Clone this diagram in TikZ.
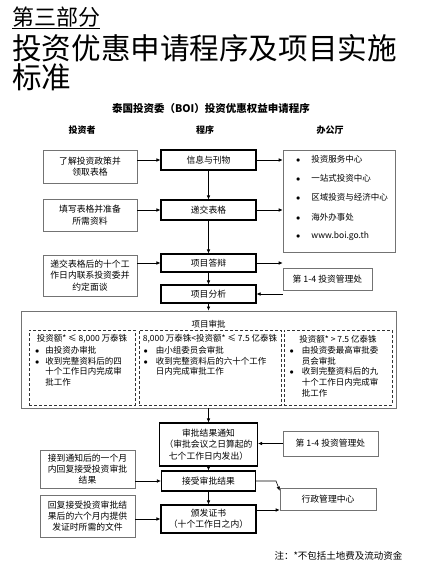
\documentclass[tikz,border=0pt]{standalone}
\usepackage{fontspec}
\setmainfont{Noto Sans CJK SC}
\usetikzlibrary{arrows.meta}

\newcommand\bfnt{\fontsize{8.8}{11.3}\selectfont}
\newcommand\lfnt{\fontsize{8.5}{10.6}\selectfont}

\tikzset{
  inv/.style={draw=black!55, line width=.6pt, align=center, inner sep=0pt, font=\bfnt},
  proc/.style={draw, line width=1.1pt, align=center, inner sep=0pt, font=\bfnt},
  offc/.style={draw=black!55, line width=.6pt, align=center, inner sep=0pt, font=\bfnt},
  dbox/.style={draw=black!80, densely dashed, line width=.8pt, inner sep=0pt},
  arr/.style={-{Latex[length=4pt,width=3.5pt]}, line width=.6pt},
}

\begin{document}
\begin{tikzpicture}[x=1pt,y=-1pt]
\useasboundingbox (0,0) rectangle (421,576);
\node[anchor=west,inner sep=0,font=\fontsize{22}{24}\selectfont] (part) at (12,18) {\underline{第三部分}};
\node[anchor=west,inner sep=0,font=\fontsize{29.6}{31}\selectfont] (title) at (12,48) {投资优惠申请程序及项目实施};
\node[anchor=west,inner sep=0,font=\fontsize{29.6}{31}\selectfont] (title2) at (12,77) {标准};
\node[font=\fontsize{10.5}{12}\selectfont\bfseries] (sub) at (211,108) {泰国投资委（BOI）投资优惠权益申请程序};
\node[font=\fontsize{9}{11}\selectfont\bfseries] (h1) at (82,130) {投资者};
\node[font=\fontsize{9}{11}\selectfont\bfseries] (h2) at (205,130) {程序};
\node[font=\fontsize{9}{11}\selectfont\bfseries] (h3) at (330,130) {办公厅};

\node[inv, minimum width=94pt, minimum height=33pt] (inv1) at (90,166.5) {了解投资政策并\\领取表格};
\node[proc, minimum width=95pt, minimum height=20pt] (xinxi) at (208.5,160) {信息与刊物};
\node[offc, minimum width=112pt, minimum height=102pt] (office) at (339,201) {};
\foreach \t [count=\i] in {投资服务中心,一站式投资中心,区域投资与经济中心,海外办事处,www.boi.go.th}
  \node[anchor=west, inner sep=0pt, font=\lfnt] (o\i) at (296,140+19.2*\i) {$\bullet$\hspace{11pt}\t};
\node[inv, minimum width=94pt, minimum height=32pt] (inv2) at (90,215) {填写表格并准备\\所需资料};
\node[proc, minimum width=95pt, minimum height=20pt] (dijiao) at (208.5,210) {递交表格};
\node[inv, minimum width=94pt, minimum height=41pt] (inv3) at (90,275.5) {递交表格后的十个工\\作日内联系投资委并\\约定面谈};
\node[proc, minimum width=95pt, minimum height=18pt] (dabian) at (208.5,263) {项目答辩};
\node[offc, minimum width=89pt, minimum height=22pt] (guanli) at (327.5,279) {第 1-4 投资管理处};
\node[proc, minimum width=95pt, minimum height=18pt] (fenxi) at (208.5,294) {项目分析};

\node[draw=black!55, line width=.8pt, minimum width=375pt, minimum height=97pt] (shenpi) at (208.5,359.5) {};
\node[font=\lfnt] (shenpit) at (208.5,324) {项目审批};
\node[dbox, minimum width=106pt, minimum height=75pt] (da) at (82,367.5) {};
\node[dbox, minimum width=142pt, minimum height=75pt] (db) at (210,367.5) {};
\node[dbox, minimum width=108pt, minimum height=75pt] (dc) at (338,367.5) {};
\node[font=\lfnt, inner sep=0pt] (ha) at (82,339) {投资额* ≤ 8,000 万泰铢};
\node[font=\lfnt, inner sep=0pt] (hb) at (210,339) {8,000 万泰铢<投资额* ≤ 7.5 亿泰铢};
\node[font=\lfnt, inner sep=0pt] (hc) at (338,339) {投资额* > 7.5 亿泰铢};
\node[font=\lfnt, inner sep=0pt, anchor=north west] (la) at (35,346) {\begin{tabular}{@{}c@{\hspace{6pt}}l@{}}
  $\bullet$ & 由投资办审批\\ $\bullet$ & 收到完整资料后的四\\ & 十个工作日内完成审\\ & 批工作\end{tabular}};
\node[font=\lfnt, inner sep=0pt, anchor=north west] (lb) at (143.5,346) {\begin{tabular}{@{}c@{\hspace{8pt}}l@{}}
  $\bullet$ & 由小组委员会审批\\ $\bullet$ & 收到完整资料后的六十个工作\\ & 日内完成审批工作\end{tabular}};
\node[font=\lfnt, inner sep=0pt, anchor=north west] (lc) at (289.5,346) {\begin{tabular}{@{}c@{\hspace{8pt}}l@{}}
  $\bullet$ & 由投资委最高审批委\\ & 员会审批\\ $\bullet$ & 收到完整资料后的九\\ & 十个工作日内完成审\\ & 批工作\end{tabular}};

\node[proc, minimum width=98pt, minimum height=43pt] (tongzhi) at (208.5,444.5) {审批结果通知\\（审批会议之日算起的\\七个工作日内发出）};
\node[offc, minimum width=95pt, minimum height=25pt] (guanli2) at (330.5,443.5) {第 1-4 投资管理处};
\node[inv, minimum width=95pt, minimum height=38pt] (inv4) at (87.5,469) {接到通知后的一个月\\内回复接受投资审批\\结果};
\node[proc, minimum width=94pt, minimum height=20pt] (jieshou) at (208.5,481) {接受审批结果};
\node[proc, minimum width=95pt, minimum height=28pt] (banfa) at (208.5,519) {颁发证书\\（十个工作日之内）};
\node[inv, minimum width=95pt, minimum height=42pt] (inv5) at (87.5,516) {回复接受投资审批结\\果后的六个月内提供\\发证时所需的文件};
\node[offc, minimum width=96pt, minimum height=22pt] (xingzheng) at (328,499) {行政管理中心};
\node[anchor=east, font=\fontsize{9.5}{11}\selectfont] (note) at (406,556) {注：*不包括土地费及流动资金};

\draw[arr] (inv1.east |- xinxi.west) -- (xinxi.west);
\draw[arr] (xinxi.east) -- (xinxi.east -| office.west);
\draw[arr] (xinxi) -- (dijiao);
\draw[arr] (inv2.east |- dijiao.west) -- (dijiao.west);
\draw[arr] (dijiao.east) -- (dijiao.east -| office.west);
\draw[arr] (dijiao) -- (dabian);
\draw[arr] (inv3.east |- dabian.west) -- (dabian.west);
\draw[arr] (dabian.east) -- (dabian.east -| guanli.west);
\draw[arr] (dabian) -- (fenxi);
\draw[arr] (guanli.west |- fenxi.east) -- (fenxi.east);
\draw[arr] (fenxi) -- (fenxi |- shenpi.north);
\draw[arr] (shenpi.south -| tongzhi) -- (tongzhi.north);
\draw[arr] (guanli2.west) -- (guanli2.west -| tongzhi.east);
\draw[arr] (tongzhi) -- (jieshou);
\draw[arr] (inv4.east |- jieshou.west) -- (jieshou.west);
\draw[arr] (jieshou) -- (banfa);
\draw[arr] (inv5.east |- banfa.west) -- (banfa.west);
\draw[arr] (jieshou.east) -- ++(20,0) -- ([yshift=-3pt]xingzheng.north west);
\draw[arr] ([yshift=9pt]banfa.east) -- ([yshift=9pt]banfa.east -| xingzheng.west);
\end{tikzpicture}
\end{document}
